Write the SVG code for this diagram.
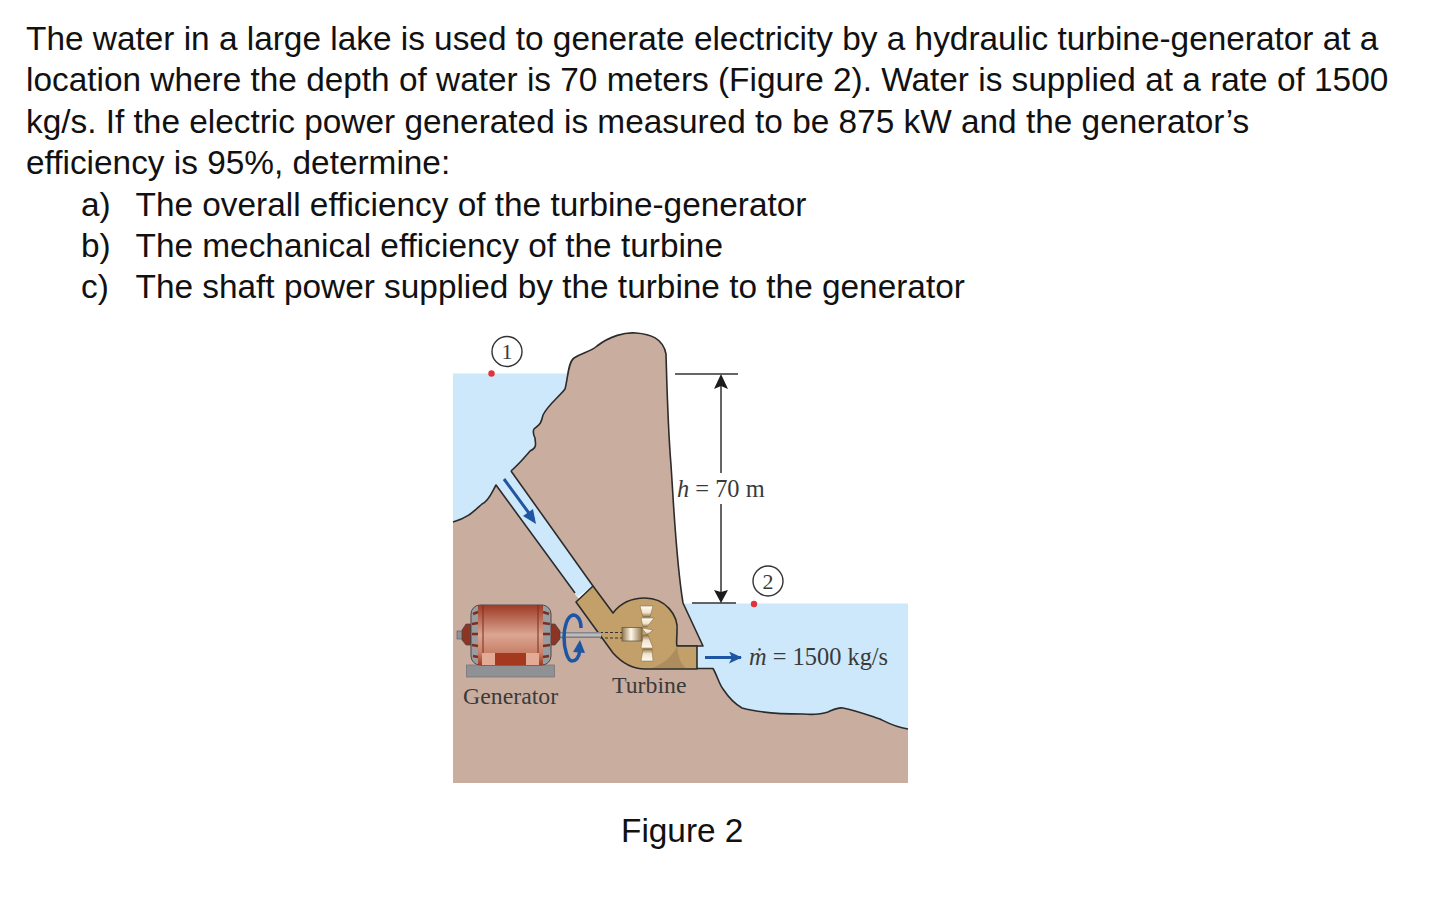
<svg xmlns="http://www.w3.org/2000/svg" width="1454" height="918" viewBox="0 0 1454 918">
<defs>
<linearGradient id="body" x1="0" y1="0" x2="0" y2="1"><stop offset="0" stop-color="#9e3a25"/><stop offset=".5" stop-color="#dba692"/><stop offset=".8" stop-color="#c87f68"/><stop offset="1" stop-color="#9e3a25"/></linearGradient>
<linearGradient id="bladeT" x1="0" y1="0" x2="0" y2="1"><stop offset="0" stop-color="#fffaf0"/><stop offset=".6" stop-color="#f0e3cc"/><stop offset="1" stop-color="#8f7448"/></linearGradient>
<linearGradient id="bladeB" x1="0" y1="1" x2="0" y2="0"><stop offset="0" stop-color="#fffaf0"/><stop offset=".6" stop-color="#f0e3cc"/><stop offset="1" stop-color="#8f7448"/></linearGradient>
<linearGradient id="rotor" x1="0" y1="0" x2="1" y2="0"><stop offset="0" stop-color="#8f7448"/><stop offset=".45" stop-color="#fff8ea"/><stop offset="1" stop-color="#8f7448"/></linearGradient>
<linearGradient id="shaft" x1="0" y1="0" x2="0" y2="1"><stop offset="0" stop-color="#77797c"/><stop offset=".5" stop-color="#c9cacb"/><stop offset="1" stop-color="#6b6d70"/></linearGradient>
<marker id="blu" markerWidth="14" markerHeight="14" refX="12" refY="6" orient="auto" markerUnits="userSpaceOnUse"><path d="M0 0L13 6L0 12L3 6Z" fill="#1f56a3"/></marker>
</defs>
<style>
.t{font-family:"Liberation Sans",Arial,sans-serif;font-size:33.38px;fill:#111}
.s{font-family:"Liberation Serif","Times New Roman",serif;font-size:23.8px;fill:#3a3a3a}
.o{stroke:#2b2b2b;stroke-width:1.6;fill:none;stroke-linejoin:round}
.c{fill:#fff;stroke:#333;stroke-width:1.4}
.d{fill:#e2323a}
.w{fill:#cde8fa}
.r{fill:#c9aea0}
.bl{stroke:#1f56a3;stroke-width:3;fill:none}
.dim{stroke:#333;stroke-width:1.5;fill:none}
.bt{fill:url(#bladeT);stroke:#7a6340;stroke-width:.5}
.bb{fill:url(#bladeB);stroke:#7a6340;stroke-width:.5}
</style>
<rect width="1454" height="918" fill="#fff"/>
<g id="problem-text">
<text class="t" x="26" y="50">The water in a large lake is used to generate electricity by a hydraulic turbine-generator at a</text>
<text class="t" x="26" y="91">location where the depth of water is 70 meters (Figure 2). Water is supplied at a rate of 1500</text>
<text class="t" x="26" y="133">kg/s. If the electric power generated is measured to be 875 kW and the generator’s</text>
<text class="t" x="26" y="174">efficiency is 95%, determine:</text>
<text class="t" x="81" y="216">a)</text><text class="t" x="135.500" y="216">The overall efficiency of the turbine-generator</text>
<text class="t" x="81" y="257">b)</text><text class="t" x="135.500" y="257">The mechanical efficiency of the turbine</text>
<text class="t" x="81" y="298">c)</text><text class="t" x="135.500" y="298">The shaft power supplied by the turbine to the generator</text>
</g>
<g id="scene">
<rect class="w" x="453" y="373.500" width="130" height="155"/>
<rect class="w" x="680" y="603.500" width="228" height="130"/>
<path class="r" d="M453 522C468 518 474 511 482 504C489 501 492 492 496 485L575 593L613 650L645 669H713C717 675 719 684 723 689C729 698 735 704 742 708C760 713 785 714 803 714C815 715 822 714 828 712C835 709 838 707 843 708C858 711 870 716 880 719C888 723 895 727 908 729V783H453Z"/>
<path class="r" d="M511 471C520 463 524 458 530 451C538 448 535 442 535 438C533 434 533 431 534 429C540 424 541 424 543 415C548 405 558 398 565 389C568 378 568 362 574 358C584 352 590 352 597 346C610 336 625 332 636 333C650 334 663 338 666 354C667 390 668 430 671 465C674 510 676 560 683 603L703 646H676L613 613L593 586Z"/>
<path class="w" d="M511 471L496 485L577 597L593 586Z"/>
<path class="o" d="M453 522C468 518 474 511 482 504C489 501 492 492 496 485L575 593"/>
<path class="o" d="M511 471C520 463 524 458 530 451C538 448 535 442 535 438C533 434 533 431 534 429C540 424 541 424 543 415C548 405 558 398 565 389C568 378 568 362 574 358C584 352 590 352 597 346C610 336 625 332 636 333C650 334 663 338 666 354C667 390 668 430 671 465C674 510 676 560 683 603L703 646H676"/>
<path class="o" d="M511 471L593 586"/>
<path class="o" stroke-width="1.200" d="M697 668.500H713C717 675 719 684 723 689C729 698 735 704 742 708C760 713 785 714 803 714C815 715 822 714 828 712C835 709 838 707 843 708C858 711 870 716 880 719C888 723 895 727 908 729"/>
<path d="M504 479L534 520" stroke="#1f56a3" stroke-width="3" fill="none"/>
<path d="M536 524L523 516L533 509Z" fill="#1f56a3"/>
</g>
<g id="turbine">
<path fill="#c3a069" stroke="#2b2b2b" stroke-width="1.600" stroke-linejoin="round" d="M576 602L593 586L613 613C622 601 634 598 645 598C665 598 679 615 677 632C677 638 676 642 677 646H697V669H645C632 669 622 663 613 653Z"/>
<path fill="#ad8c5d" d="M652 668C664 664 672 656 677 647C678 655 680 664 686 668Z"/>
<path class="bt" d="M640 606H653L650 617H643Z"/><path class="bt" d="M641 618H654L647 627H643Z"/><path class="bt" d="M642 628L653 630L647 635Z"/>
<path class="bb" d="M643 635H648L653 648H641Z"/><path class="bb" d="M643 649H652L653 661H641Z"/>
<rect x="622" y="627.500" width="20" height="13.500" fill="url(#rotor)" stroke="#6b5a3e" stroke-width=".8"/>
<path d="M600 632.500H622M600 638H622" stroke="#333" stroke-width="1" stroke-dasharray="3 2"/>
</g>
<g id="generator">
<rect x="466.500" y="665" width="88" height="12" fill="#8f9195" stroke="#777" stroke-width=".8"/>
<path d="M556 632H601V638H556Z" fill="url(#shaft)"/>
<rect x="457" y="631" width="6" height="8" fill="#8f9195" stroke="#555" stroke-width=".6"/>
<path d="M462 630L466 624H471V645H466L462 640Z" fill="#8c3525" stroke="#444" stroke-width=".7"/>
<path d="M550 624H555L560 631V639L555 645H550Z" fill="#8c3525" stroke="#444" stroke-width=".7"/>
<rect x="471" y="605" width="80" height="60" rx="9" fill="#9b9ca0" stroke="#4a4a4a"/>
<rect x="478" y="605" width="65" height="60" fill="url(#body)"/>
<path d="M483 605V665M538 605V665" stroke="#7a2f20" stroke-width="1"/>
<path d="M473 614L478 612M472 624L478 623M472 634H478M472 645L478 646M473 656L478 657M543 612L549 614M543 623L550 624M543 634H550M543 646L550 645M543 657L549 656" stroke="#7a2f20" stroke-width="2.500"/>
<rect x="495" y="653" width="31" height="12" fill="#a5391f"/>
<path d="M482 665V653H495V665ZM539 665V653H526V665Z" fill="#e3ab95"/>
<path d="M581 628C581 619 577 615 573 615C567 616 564 628 564 637C564 650 568 661 572 661C576 661 579 657 580 650" class="bl" style="stroke-width:3.500"/>
<path d="M573 652L585 653L580 640Z" fill="#1f56a3"/>
</g>
<g id="dimension">
<path class="dim" d="M675 374H738M692 603H736"/>
<path class="dim" d="M721 380V473M721 504V597"/>
<path fill="#1c1c1c" d="M721 374L728 389L721 386L714 389ZM721 603L714 590L721 592L728 590Z"/>
<text class="s" x="677" y="497" style="font-size:24.400px"><tspan font-style="italic">h</tspan> = 70 m</text>
</g>
<g id="point-1"><circle class="c" cx="507" cy="351.500" r="15"/><text class="s" x="507" y="359" text-anchor="middle" style="font-size:22px">1</text><circle class="d" cx="491.500" cy="373.500" r="3.200"/></g>
<g id="point-2"><circle class="c" cx="768" cy="581" r="15"/><text class="s" x="768" y="589" text-anchor="middle" style="font-size:22px">2</text><circle class="d" cx="754" cy="604" r="3.200"/></g>
<g id="flow"><path class="bl" d="M705 657.500H741" marker-end="url(#blu)"/><text class="s" x="749" y="665" style="font-size:24.400px"><tspan font-style="italic">ṁ</tspan> = 1500 kg/s</text></g>
<g id="labels">
<text class="s" x="463" y="704">Generator</text>
<text class="s" x="612" y="693">Turbine</text>
<text class="t" x="621" y="842">Figure 2</text>
</g>
</svg>
